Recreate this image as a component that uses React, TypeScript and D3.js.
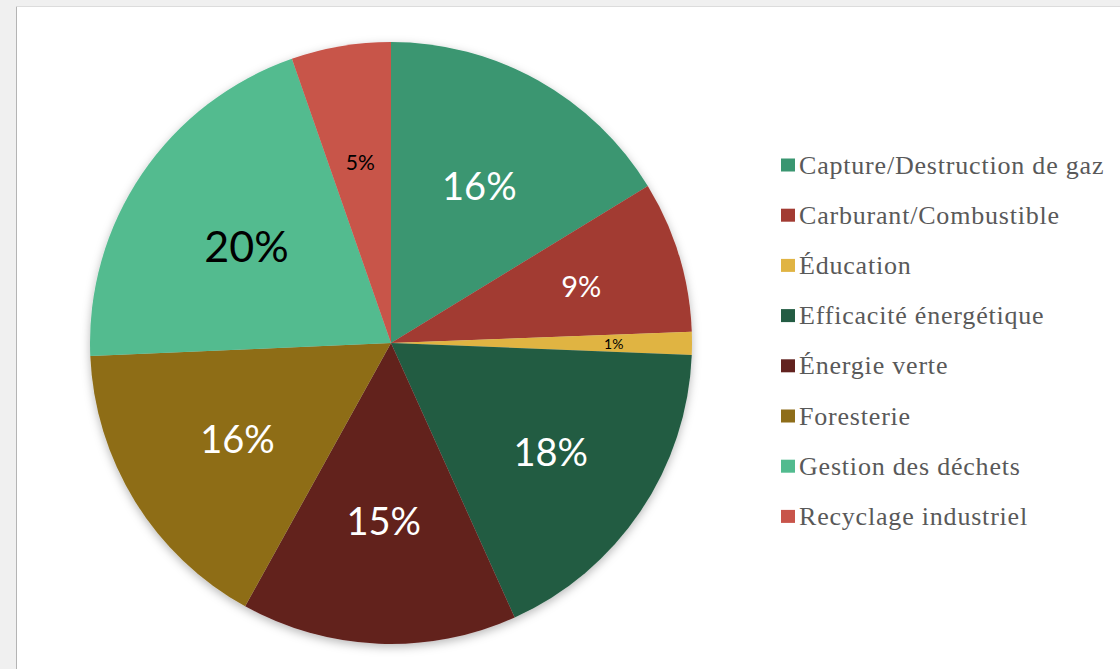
import React from 'react';
import * as d3 from 'd3';

// share of each category
const categories = [
  'Capture/Destruction de gaz',
  'Carburant/Combustible',
  'Éducation',
  'Efficacité énergétique',
  'Énergie verte',
  'Foresterie',
  'Gestion des déchets',
  'Recyclage industriel',
];
const shares = [16.27, 8.14, 1.22, 17.63, 14.79, 16.26, 20.35, 5.34];
const pctLabels = ['16%', '9%', '1%', '18%', '15%', '16%', '20%', '5%'];
const colors = ['#3A9671', '#A23B32', '#E0B443', '#235C43', '#62221F', '#8E6D19', '#52BB8F', '#C8544A'];

// label look per slice: font size, fill, distance from centre (fraction of radius)
const labelLook = [
  { size: 38, fill: '#fff', r: 0.6 },
  { size: 29, fill: '#fff', r: 0.66 },
  { size: 14, fill: '#000', r: 0.74 },
  { size: 38, fill: '#fff', r: 0.64 },
  { size: 38, fill: '#fff', r: 0.59 },
  { size: 38, fill: '#fff', r: 0.6 },
  { size: 43, fill: '#000', r: 0.58 },
  { size: 21, fill: '#000', r: 0.61 },
];

const W = 1120;
const H = 669;
const cx = 391;
const cy = 343;
const radius = 301;

export default function App() {
  const pie = d3.pie<number>().value(d => d).sort(null);
  const arcs = pie(shares);
  const arc = d3.arc<d3.PieArcDatum<number>>().innerRadius(0).outerRadius(radius);

  const legendX = 781;
  const legendY = 165;
  const legendStep = 50.2;

  return (
    <svg width={W} height={H} style={{ position: 'absolute', left: 0, top: 0, display: 'block' }}>
      <defs>
        <filter id="pieShadow" x="-20%" y="-20%" width="140%" height="140%">
          <feDropShadow dx="0" dy="3" stdDeviation="5" floodColor="#000" floodOpacity="0.28" />
        </filter>
      </defs>
      <rect x={0} y={0} width={W} height={H} fill="#f0f0f0" />
      <rect x={17} y={7} width={W - 17} height={H - 7} fill="#fff" />
      <line x1={16.5} y1={6.5} x2={16.5} y2={H} stroke="#b4b4b4" />
      <line x1={16.5} y1={6.5} x2={W} y2={6.5} stroke="#dcdcdc" />

      <g transform={`translate(${cx},${cy})`}>
        <g filter="url(#pieShadow)">
          {arcs.map((a, i) => (
            <path key={i} d={arc(a) || ''} fill={colors[i]} />
          ))}
        </g>
        {arcs.map((a, i) => {
          const look = labelLook[i];
          const mid = (a.startAngle + a.endAngle) / 2;
          const x = Math.sin(mid) * radius * look.r;
          const y = -Math.cos(mid) * radius * look.r;
          return (
            <text
              key={i}
              x={x}
              y={y}
              textAnchor="middle"
              dominantBaseline="central"
              fontFamily="Lato, 'Noto Sans', sans-serif"
              fontSize={look.size}
              fill={look.fill}
            >
              {pctLabels[i]}
            </text>
          );
        })}
      </g>

      <g transform={`translate(${legendX},${legendY})`}>
        {categories.map((c, i) => (
          <g key={c} transform={`translate(0,${i * legendStep})`}>
            <rect x={0} y={-6.5} width={14} height={13} fill={colors[i]} />
            <text
              x={18}
              y={0}
              dominantBaseline="central"
              fontFamily="'Liberation Serif', serif"
              fontSize={26}
              letterSpacing={0.8}
              fill="#595959"
            >
              {c}
            </text>
          </g>
        ))}
      </g>
    </svg>
  );
}
